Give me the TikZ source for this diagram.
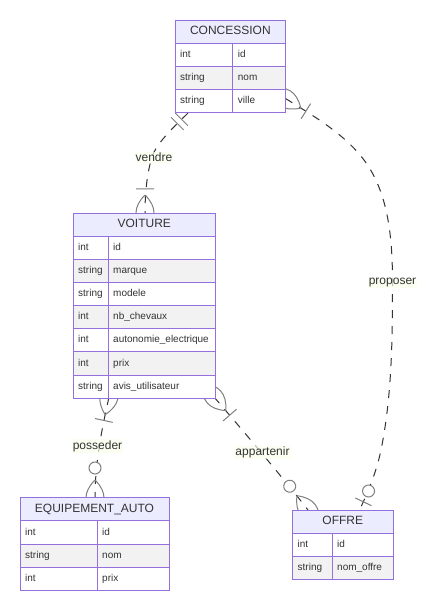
\documentclass[tikz,border=0pt]{standalone}
\usepackage{fontspec}
\setmainfont{Liberation Sans}
\usetikzlibrary{decorations.markings}
\definecolor{erpurple}{HTML}{9370DB}
\definecolor{erheadfill}{HTML}{ECECFF}
\definecolor{ergrey}{HTML}{F2F2F2}
\definecolor{ertxt}{HTML}{333333}
\definecolor{erlab}{HTML}{F9FFEC}
\tikzset{
  erbox/.style={draw=erpurple, line width=1pt},
  headbox/.style={rectangle, draw=erpurple, line width=1pt, fill=erheadfill, inner sep=0pt, outer sep=0pt,
    minimum height=23.15pt, font=\fontsize{12}{14}\selectfont, text=ertxt, text height=8.6pt, text depth=2.5pt},
  attrtext/.style={font=\fontsize{10}{12}\selectfont, text=ertxt, inner sep=0pt, anchor=west, text height=7.2pt, text depth=2pt},
  rel/.style={draw=ertxt, line width=1pt, dash pattern=on 8pt off 8pt},
  mk/.style={draw=gray, line width=1pt, solid},
  rellabel/.style={font=\fontsize{12}{14}\selectfont, text=ertxt, fill=erlab, fill opacity=0.7, text opacity=1, inner sep=1pt},
  onlyonestart/.style={postaction={decorate, decoration={markings, mark=at position 0 with {\draw[mk] (9,-9) -- (9,9) (15,-9) -- (15,9);}}}},
  oneormorestart/.style={postaction={decorate, decoration={markings, mark=at position 0 with {\draw[mk] (-18,0) .. controls (-6,-12) and (6,-12) .. (18,0) .. controls (6,12) and (-6,12) .. (-18,0) (24,-9) -- (24,9);}}}},
  oneormoreend/.style={postaction={decorate, decoration={markings, mark=at position 0.9999 with {\draw[mk] (-18,0) .. controls (-6,-12) and (6,-12) .. (18,0) .. controls (6,12) and (-6,12) .. (-18,0) (-24,-9) -- (-24,9);}}}},
  zeroormoreend/.style={postaction={decorate, decoration={markings, mark=at position 0.9999 with {\draw[mk] (-18,0) .. controls (-6,-12) and (6,-12) .. (18,0) .. controls (6,12) and (-6,12) .. (-18,0); \draw[mk, fill=white] (-30,0) circle[radius=6];}}}},
  zerooroneend/.style={postaction={decorate, decoration={markings, mark=at position 0.9999 with {\draw[mk] (-9,-9) -- (-9,9); \draw[mk, fill=white] (-21,0) circle[radius=6];}}}},
}
\newcommand\erentity[7]{%
  \node[headbox, minimum width=#4pt, anchor=north west] (#1) at (#2,#3) {#6};
  \foreach \ty/\nm [count=\i] in {#7}{%
    \pgfmathsetmacro\rt{#3+23.15*\i}%
    \ifodd\i\def\rf{white}\else\def\rf{ergrey}\fi
    \draw[erbox, fill=\rf] (#2,\rt) rectangle ++(#4,23.15);
    \draw[erbox] (#2+#5,\rt) -- ++(0,23.15);
    \node[attrtext] (#1-t\i) at (#2+5,\rt+11.6) {\ty};
    \node[attrtext] (#1-n\i) at (#2+#5+5,\rt+11.6) {\nm};
  }%
}
\begin{document}
\begin{tikzpicture}[x=1pt, y=-1pt]
\useasboundingbox (0,0) rectangle (436,611);
\fill[white] (0,0) rectangle (436,611);

% connector end points
\coordinate (conc-vendre) at (188,113);
\coordinate (voit-vendre) at (145,213);
\coordinate (conc-prop) at (285.5,98.5);
\coordinate (offre-prop) at (359.5,510);
\coordinate (voit-poss) at (109,397);
\coordinate (equip-poss) at (95,498);
\coordinate (voit-app) at (214,397);
\coordinate (offre-app) at (308,510);

% connectors
\draw[rel, onlyonestart, oneormoreend] (conc-vendre) .. controls (176,125) and (157,142) .. (152,157)
   .. controls (148,170) and (145,188) .. (voit-vendre);
\draw[rel, oneormorestart, zerooroneend] (conc-prop) .. controls (313.5,116) and (344.2,133.6) .. (364,160)
   .. controls (389.2,193.6) and (392.5,241) .. (392.5,283)
   .. controls (392.5,338) and (392,396) .. (381,450)
   .. controls (376.8,470.6) and (368.5,491.1) .. (offre-prop);
\draw[rel, oneormorestart, zeroormoreend] (voit-poss) .. controls (104,420) and (95,458) .. (equip-poss);
\draw[rel, oneormorestart, zeroormoreend] (voit-app) .. controls (240,427) and (288,484) .. (offre-app);

% labels
\node[rellabel] (l-vendre) at (154,157.5) {vendre};
\node[rellabel] (l-prop) at (392.5,283) {proposer};
\node[rellabel] (l-poss) at (97.5,446) {posseder};
\node[rellabel] (l-app) at (262.5,452.5) {appartenir};

% entities
\erentity{conc}{175}{20}{110.7}{57.7}{CONCESSION}{int/id, string/nom, string/ville}
\erentity{voit}{73}{213}{142.5}{35}{VOITURE}{int/id, string/marque, string/modele, int/nb\_chevaux, int/autonomie\_electrique, int/prix, string/avis\_utilisateur}
\erentity{equip}{20}{497.8}{149}{77}{EQUIPEMENT\_AUTO}{int/id, string/nom, int/prix}
\erentity{offre}{292.5}{510}{100.5}{39.5}{OFFRE}{int/id, string/nom\_offre}
\end{tikzpicture}
\end{document}
